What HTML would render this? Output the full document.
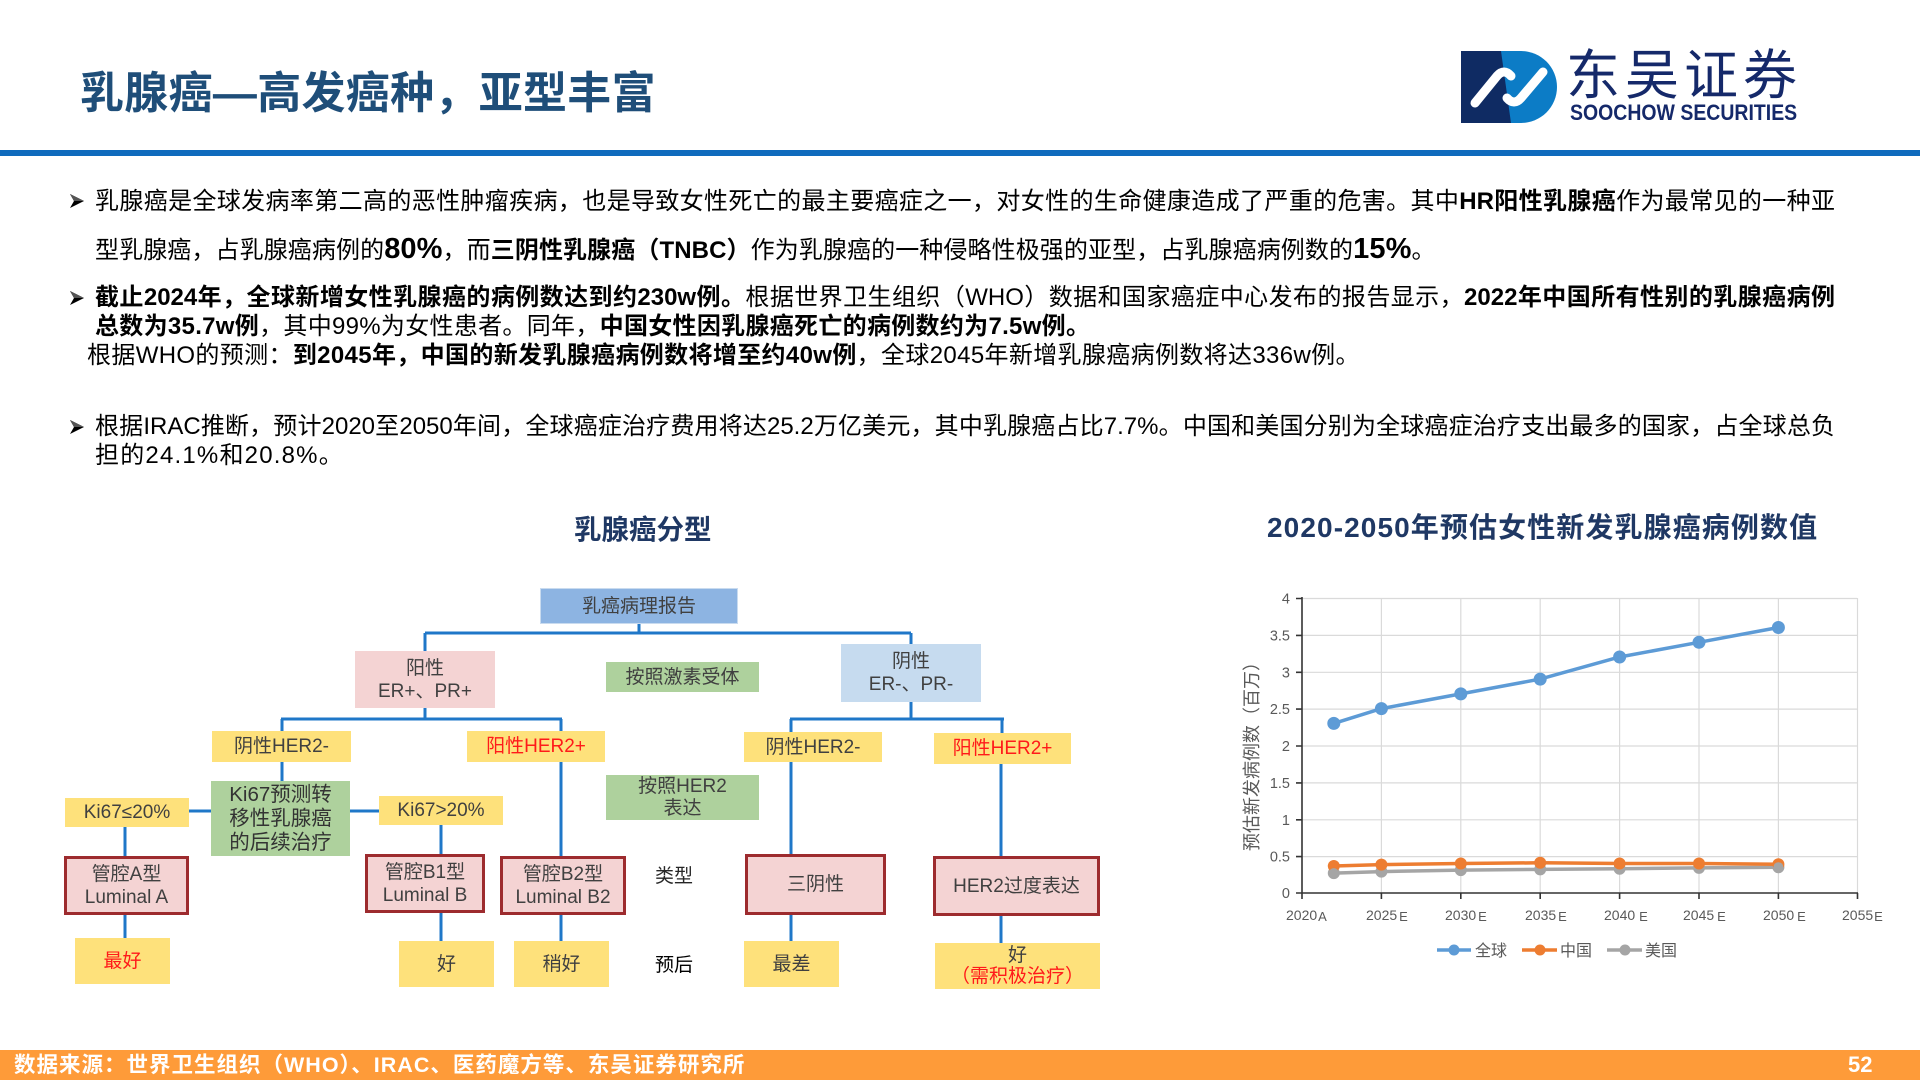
<!DOCTYPE html>
<html>
<head>
<meta charset="utf-8">
<style>
  html,body{margin:0;padding:0;}
  body{width:1920px;height:1080px;position:relative;overflow:hidden;background:#fff;
       font-family:"Liberation Sans","Noto Sans CJK SC",sans-serif;}
  .abs{position:absolute;}
  .title{left:80px;top:66px;font-size:44px;font-weight:bold;color:#1f4e79;line-height:56px;white-space:nowrap;letter-spacing:0.3px;}
  .line{position:absolute;font-size:24px;line-height:30px;height:30px;color:#000;white-space:nowrap;}
  .just{text-align:justify;text-align-last:justify;}
  .big{font-size:29px;}
  .arrow{position:absolute;width:16px;height:16px;}
  .box{position:absolute;box-sizing:border-box;display:flex;flex-direction:column;align-items:center;justify-content:center;
       font-size:19px;color:#404040;line-height:23px;text-align:center;white-space:nowrap;}
  .yel{background:#fee17b;}
  .pink{background:#f4d3d3;}
  .grn{background:#aed19d;}
  .lb{background:#c6dbef;}
  .bl{background:#8db4e2;}
  .brd{border:3px solid #9d2b2e;}
  .red{color:#ff1a1a;}
  .lab{position:absolute;font-size:19px;color:#262626;white-space:nowrap;line-height:24px;}
</style>
</head>
<body>

<!-- Header -->
<div class="abs title">乳腺癌—高发癌种，亚型丰富</div>

<!-- Logo -->
<svg class="abs" style="left:1461px;top:51px" width="96" height="72" viewBox="0 0 96 72">
  <polygon points="0,0 44,0 54,72 0,72" fill="#0f2b63"/>
  <path d="M40,0 H60 A36,36 0 0 1 60,72 H50 Z" fill="#0c7cc6"/>
  <path d="M14,52 L36,25 Q43,17 50,25" stroke="#fff" stroke-width="9" stroke-linecap="round" fill="none"/>
  <path d="M46,47 Q53,55 60,47 L82,21" stroke="#fff" stroke-width="9" stroke-linecap="round" fill="none"/>
</svg>
<div class="abs" style="left:1566px;top:38px;font-size:54px;line-height:66px;color:#15296a;letter-spacing:5px;white-space:nowrap;font-family:'Noto Sans CJK SC','Liberation Sans',sans-serif;font-weight:400;">东吴证券</div>
<div class="abs" style="left:1570px;top:101px;font-size:22px;line-height:24px;color:#15296a;font-weight:bold;white-space:nowrap;transform:scaleX(0.885);transform-origin:0 0;">SOOCHOW SECURITIES</div>

<!-- blue rule -->
<div class="abs" style="left:0;top:150px;width:1920px;height:6px;background:#0f6bbd;"></div>

<!-- Bullets -->
<svg class="arrow" style="left:69px;top:193px" viewBox="0 0 16 16"><polygon points="1,1 15,8 1,15 5,8" fill="#000"/><polygon points="1,1 15,8 5,8" fill="#555"/></svg>
<div class="line just" style="left:95px;top:187px;width:1740px;">乳腺癌是全球发病率第二高的恶性肿瘤疾病，也是导致女性死亡的最主要癌症之一，对女性的生命健康造成了严重的危害。其中<b>HR阳性乳腺癌</b>作为最常见的一种亚</div>
<div class="line" style="left:95px;top:234px;letter-spacing:0.1px;">型乳腺癌，占乳腺癌病例的<b class="big">80%</b>，而<b>三阴性乳腺癌（TNBC）</b>作为乳腺癌的一种侵略性极强的亚型，占乳腺癌病例数的<b class="big">15%</b>。</div>

<svg class="arrow" style="left:69px;top:290px" viewBox="0 0 16 16"><polygon points="1,1 15,8 1,15 5,8" fill="#000"/><polygon points="1,1 15,8 5,8" fill="#555"/></svg>
<div class="line just" style="left:95px;top:283px;width:1740px;"><b>截止2024年，全球新增女性乳腺癌的病例数达到约230w例。</b>根据世界卫生组织（WHO）数据和国家癌症中心发布的报告显示，<b>2022年中国所有性别的乳腺癌病例</b></div>
<div class="line" style="left:95px;top:312px;letter-spacing:0.3px;"><b>总数为35.7w例</b>，其中99%为女性患者。同年，<b>中国女性因乳腺癌死亡的病例数约为7.5w例。</b></div>
<div class="line" style="left:87px;top:341px;letter-spacing:0.35px;">根据WHO的预测：<b>到2045年，中国的新发乳腺癌病例数将增至约40w例</b>，全球2045年新增乳腺癌病例数将达336w例。</div>

<svg class="arrow" style="left:69px;top:419px" viewBox="0 0 16 16"><polygon points="1,1 15,8 1,15 5,8" fill="#000"/><polygon points="1,1 15,8 5,8" fill="#555"/></svg>
<div class="line just" style="left:95px;top:412px;width:1740px;">根据IRAC推断，预计2020至2050年间，全球癌症治疗费用将达25.2万亿美元，其中乳腺癌占比7.7%。中国和美国分别为全球癌症治疗支出最多的国家，占全球总负</div>
<div class="line" style="left:95px;top:441px;letter-spacing:1.2px;">担的24.1%和20.8%。</div>

<!-- Section titles -->
<div class="abs" style="left:574px;top:513px;font-size:27.5px;line-height:34px;font-weight:bold;color:#1f3864;white-space:nowrap;">乳腺癌分型</div>
<div class="abs" style="left:1267px;top:511px;font-size:28px;line-height:34px;font-weight:bold;color:#1f3864;white-space:nowrap;letter-spacing:1.1px;">2020-2050年预估女性新发乳腺癌病例数值</div>

<!-- Flowchart connectors -->
<svg class="abs" style="left:0;top:0" width="1920" height="1080">
  <g stroke="#1f77c8" stroke-width="3" fill="none">
    <path d="M639,622 V633"/>
    <path d="M425,633 H911"/>
    <path d="M425,633 V652"/>
    <path d="M911,633 V645"/>
    <path d="M425,707 V719 M281,719 H562 M282,719 V732 M561,719 V732"/>
    <path d="M911,701 V719 M790,719 H1004 M791,719 V733 M1002,719 V734"/>
    <path d="M282,761 V782"/>
    <path d="M188,811 H212 M349,811 H380"/>
    <path d="M125,826 V857"/>
    <path d="M441,824 V855"/>
    <path d="M561,761 V857"/>
    <path d="M791,761 V855"/>
    <path d="M1001,763 V857"/>
    <path d="M125,914 V939 M441,912 V942 M561,914 V942 M791,915 V942 M1001,915 V944"/>
  </g>
</svg>

<!-- Flowchart boxes -->
<div class="box bl" style="left:540px;top:588px;width:198px;height:36px;border:1px solid #c9dbef;">乳癌病理报告</div>
<div class="box pink" style="left:355px;top:651px;width:140px;height:57px;"><span>阳性</span><span>ER+、PR+</span></div>
<div class="box grn" style="left:606px;top:662px;width:153px;height:30px;">按照激素受体</div>
<div class="box lb" style="left:841px;top:644px;width:140px;height:58px;"><span>阴性</span><span>ER-、PR-</span></div>

<div class="box yel" style="left:212px;top:731px;width:139px;height:31px;">阴性HER2-</div>
<div class="box yel red" style="left:467px;top:731px;width:138px;height:31px;">阳性HER2+</div>
<div class="box yel" style="left:744px;top:732px;width:138px;height:30px;">阴性HER2-</div>
<div class="box yel red" style="left:934px;top:733px;width:137px;height:31px;">阳性HER2+</div>

<div class="box grn" style="left:606px;top:775px;width:153px;height:45px;line-height:22px;"><span>按照HER2</span><span>表达</span></div>
<div class="box grn" style="left:211px;top:781px;width:139px;height:75px;font-size:20.5px;line-height:24px;color:#333;"><span>Ki67预测转</span><span>移性乳腺癌</span><span>的后续治疗</span></div>
<div class="box yel" style="left:65px;top:798px;width:124px;height:29px;">Ki67≤20%</div>
<div class="box yel" style="left:379px;top:796px;width:124px;height:29px;">Ki67&gt;20%</div>

<div class="box pink brd" style="left:64px;top:856px;width:125px;height:59px;"><span>管腔A型</span><span>Luminal A</span></div>
<div class="box pink brd" style="left:365px;top:854px;width:120px;height:59px;"><span>管腔B1型</span><span>Luminal B</span></div>
<div class="box pink brd" style="left:500px;top:856px;width:126px;height:59px;"><span>管腔B2型</span><span>Luminal B2</span></div>
<div class="lab" style="left:655px;top:865px;">类型</div>
<div class="box pink brd" style="left:745px;top:854px;width:141px;height:61px;">三阴性</div>
<div class="box pink brd" style="left:933px;top:856px;width:167px;height:60px;">HER2过度表达</div>

<div class="box yel red" style="left:75px;top:938px;width:95px;height:46px;">最好</div>
<div class="box yel" style="left:399px;top:941px;width:95px;height:46px;">好</div>
<div class="box yel" style="left:514px;top:941px;width:95px;height:46px;">稍好</div>
<div class="lab" style="left:655px;top:954px;color:#000;">预后</div>
<div class="box yel" style="left:744px;top:941px;width:95px;height:46px;">最差</div>
<div class="box yel" style="left:935px;top:943px;width:165px;height:46px;line-height:21px;"><span>好</span><span class="red">（需积极治疗）</span></div>

<!-- Line chart -->
<svg class="abs" style="left:0;top:0" width="1920" height="1080" font-family="Liberation Sans, Noto Sans CJK SC, sans-serif">
  <!-- gridlines -->
  <g stroke="#dadada" stroke-width="1.2">
    <path d="M1302,598.5 H1857 M1302,635.4 H1857 M1302,672.3 H1857 M1302,709.1 H1857 M1302,746 H1857 M1302,782.9 H1857 M1302,819.8 H1857 M1302,856.6 H1857"/>
    <path d="M1381.4,598 V893 M1460.8,598 V893 M1540.2,598 V893 M1619.6,598 V893 M1699,598 V893 M1778.4,598 V893 M1857.5,598 V893"/>
  </g>
  <!-- axes -->
  <g stroke="#333" stroke-width="1.6">
    <path d="M1302,597 V893"/>
    <path d="M1302,893 H1858"/>
    <path d="M1296,598.5 H1302 M1296,635.4 H1302 M1296,672.3 H1302 M1296,709.1 H1302 M1296,746 H1302 M1296,782.9 H1302 M1296,819.8 H1302 M1296,856.6 H1302 M1296,893 H1302"/>
    <path d="M1302,893 V899 M1381.4,893 V899 M1460.8,893 V899 M1540.2,893 V899 M1619.6,893 V899 M1699,893 V899 M1778.4,893 V899 M1857.5,893 V899"/>
  </g>
  <!-- y labels -->
  <g fill="#595959" font-size="14.5" text-anchor="end">
    <text x="1290" y="603.5">4</text>
    <text x="1290" y="640.4">3.5</text>
    <text x="1290" y="677.3">3</text>
    <text x="1290" y="714.1">2.5</text>
    <text x="1290" y="751">2</text>
    <text x="1290" y="787.9">1.5</text>
    <text x="1290" y="824.8">1</text>
    <text x="1290" y="861.6">0.5</text>
    <text x="1290" y="898">0</text>
  </g>
  <!-- x labels -->
  <g fill="#595959" font-size="14">
    <text x="1286" y="920">2020<tspan font-size="13" dx="1" dy="1">A</tspan></text>
    <text x="1366" y="920">2025<tspan font-size="13" dx="2" dy="1">E</tspan></text>
    <text x="1445" y="920">2030<tspan font-size="13" dx="2" dy="1">E</tspan></text>
    <text x="1525" y="920">2035<tspan font-size="13" dx="2" dy="1">E</tspan></text>
    <text x="1604" y="920">2040<tspan font-size="13" dx="4" dy="1">E</tspan></text>
    <text x="1683" y="920">2045<tspan font-size="13" dx="3" dy="1">E</tspan></text>
    <text x="1763" y="920">2050<tspan font-size="13" dx="3" dy="1">E</tspan></text>
    <text x="1842" y="920">2055<tspan font-size="13" dx="1" dy="1">E</tspan></text>
  </g>
  <!-- y title -->
  <text x="1251" y="752" fill="#595959" font-size="18" text-anchor="middle" dominant-baseline="central" transform="rotate(-90 1251 752)" font-family="Noto Sans CJK SC, sans-serif">预估新发病例数（百万）</text>

  <!-- series: US -->
  <polyline points="1333.8,873.1 1381.4,871.6 1460.8,870.1 1540.2,869.4 1619.6,868.7 1699,867.9 1778.4,867.2" fill="none" stroke="#a5a5a5" stroke-width="3.5"/>
  <g fill="#a5a5a5">
    <circle cx="1333.8" cy="873.1" r="6"/><circle cx="1381.4" cy="871.6" r="6"/><circle cx="1460.8" cy="870.1" r="6"/>
    <circle cx="1540.2" cy="869.4" r="6"/><circle cx="1619.6" cy="868.7" r="6"/><circle cx="1699" cy="867.9" r="6"/><circle cx="1778.4" cy="867.2" r="6"/>
  </g>
  <!-- series: China -->
  <polyline points="1333.8,866 1381.4,864.6 1460.8,863.5 1540.2,862.8 1619.6,863.5 1699,863.5 1778.4,864.2" fill="none" stroke="#ed7d31" stroke-width="3.5"/>
  <g fill="#ed7d31">
    <circle cx="1333.8" cy="866" r="6"/><circle cx="1381.4" cy="864.6" r="6"/><circle cx="1460.8" cy="863.5" r="6"/>
    <circle cx="1540.2" cy="862.8" r="6"/><circle cx="1619.6" cy="863.5" r="6"/><circle cx="1699" cy="863.5" r="6"/><circle cx="1778.4" cy="864.2" r="6"/>
  </g>
  <g fill="#a5a5a5">
    <circle cx="1333.8" cy="873.1" r="5"/><circle cx="1778.4" cy="867.2" r="5"/>
  </g>
  <!-- series: Global -->
  <polyline points="1333.8,723.4 1381.4,708.6 1460.8,693.9 1540.2,679.1 1619.6,657 1699,642.3 1778.4,627.5" fill="none" stroke="#5d9bd6" stroke-width="3.5"/>
  <g fill="#5d9bd6">
    <circle cx="1333.8" cy="723.4" r="6.5"/><circle cx="1381.4" cy="708.6" r="6.5"/><circle cx="1460.8" cy="693.9" r="6.5"/>
    <circle cx="1540.2" cy="679.1" r="6.5"/><circle cx="1619.6" cy="657" r="6.5"/><circle cx="1699" cy="642.3" r="6.5"/><circle cx="1778.4" cy="627.5" r="6.5"/>
  </g>

  <!-- legend -->
  <g stroke-width="3.5">
    <path d="M1437,950 H1471" stroke="#5d9bd6"/>
    <path d="M1522,950 H1557" stroke="#ed7d31"/>
    <path d="M1607,950 H1642" stroke="#a5a5a5"/>
  </g>
  <circle cx="1454" cy="950" r="5.5" fill="#5d9bd6"/>
  <circle cx="1540" cy="950" r="5.5" fill="#ed7d31"/>
  <circle cx="1625" cy="950" r="5.5" fill="#a5a5a5"/>
  <g fill="#595959" font-size="16" font-family="Noto Sans CJK SC, sans-serif">
    <text x="1475" y="956">全球</text>
    <text x="1560" y="956">中国</text>
    <text x="1645" y="956">美国</text>
  </g>
</svg>

<!-- Footer -->
<div class="abs" style="left:0;top:1050px;width:1920px;height:30px;background:#fe9b39;"></div>
<div class="abs" style="left:14px;top:1050px;height:30px;line-height:30px;font-size:21.5px;font-weight:bold;color:#fff;white-space:nowrap;letter-spacing:1px;">数据来源：世界卫生组织（WHO）、IRAC、医药魔方等、东吴证券研究所</div>
<div class="abs" style="left:1848px;top:1050px;height:30px;line-height:30px;font-size:22px;font-weight:bold;color:#fff;">52</div>

</body>
</html>
